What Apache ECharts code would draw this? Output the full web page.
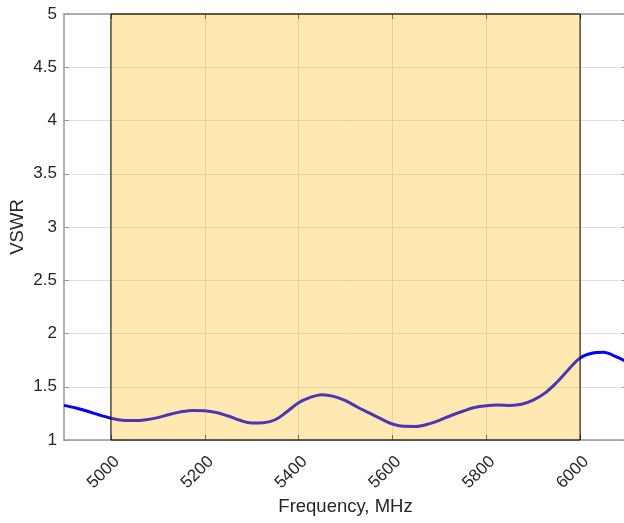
<!DOCTYPE html>
<html>
<head>
<meta charset="utf-8">
<script src="https://cdn.jsdelivr.net/npm/echarts@6/dist/echarts.min.js"></script>
<style>
html,body{margin:0;padding:0;background:#fff;}
#chart{width:624px;height:523px;}
</style>
</head>
<body>
<div id="chart"></div>
<script>
var freq = [4900,4925,4950,4975,5000,5025,5050,5075,5100,5125,5150,5175,5200,5225,5250,5275,5300,5325,5350,5375,5400,5425,5450,5475,5500,5525,5550,5575,5600,5625,5650,5675,5700,5725,5750,5775,5800,5825,5850,5875,5900,5925,5950,5975,6000,6025,6050,6075,6100];
var vswr = [1.325,1.30,1.27,1.235,1.205,1.185,1.182,1.19,1.21,1.24,1.265,1.278,1.275,1.258,1.225,1.185,1.16,1.162,1.19,1.265,1.35,1.40,1.425,1.41,1.37,1.31,1.255,1.20,1.15,1.128,1.127,1.148,1.185,1.23,1.27,1.305,1.322,1.328,1.325,1.335,1.375,1.44,1.54,1.66,1.77,1.815,1.825,1.785,1.735];
var xTicks = [5000,5200,5400,5600,5800,6000];
var bandRange = [5000, 6000];
var xRange = [4900, 6100];
var yRange = [1, 5];

var font = '"Liberation Sans", Arial, Helvetica, sans-serif';
var axisGray = '#999999';
var textCol = '#262626';

var chart = echarts.init(document.getElementById('chart'), null, {renderer:'canvas'});
var pts = freq.map(function(f,i){ return [f, vswr[i]]; });

chart.setOption({
  animation: false,
  backgroundColor: '#ffffff',
  grid: {left: 64, top: 14, bottom: 83, width: 563, containLabel: false, outerBoundsMode: 'none'},
  xAxis: [{
    type: 'value', min: xRange[0], max: xRange[1], position: 'bottom',
    name: 'Frequency, MHz', nameLocation: 'middle', nameGap: 57, nameMoveOverlap: false,
    nameTextStyle: {fontFamily: font, fontSize: 18.5, color: textCol},
    axisLine: {show: true, onZero: false, lineStyle: {color: axisGray, width: 1.5}},
    axisTick: {show: true, inside: true, length: 5, customValues: xTicks, lineStyle: {color: '#555', width: 1}},
    axisLabel: {customValues: xTicks, rotate: 45, margin: 13, verticalAlign: 'top', fontFamily: font, fontSize: 17, color: textCol,
      formatter: function(v){ return String(v); }},
    splitLine: {show: true, lineStyle: {color: '#dfdfdf', width: 1}}
  },{
    type: 'value', min: xRange[0], max: xRange[1], position: 'top',
    axisLine: {show: true, onZero: false, lineStyle: {color: axisGray, width: 1.5}},
    axisTick: {show: true, inside: true, length: 5, customValues: xTicks, lineStyle: {color: '#555', width: 1}},
    axisLabel: {show: false}, splitLine: {show: false}
  }],
  yAxis: [{
    type: 'value', min: yRange[0], max: yRange[1], interval: 0.5, position: 'left',
    name: 'VSWR', nameLocation: 'middle', nameGap: 37, nameMoveOverlap: false,
    nameTextStyle: {fontFamily: font, fontSize: 18.5, color: textCol},
    axisLine: {show: true, onZero: false, lineStyle: {color: axisGray, width: 1.5}},
    axisTick: {show: true, inside: true, length: 5, lineStyle: {color: axisGray, width: 1}},
    axisLabel: {margin: 7, fontFamily: font, fontSize: 17, color: textCol},
    splitLine: {show: true, lineStyle: {color: '#dfdfdf', width: 1}}
  },{
    type: 'value', min: yRange[0], max: yRange[1], interval: 0.5, position: 'right',
    axisLine: {show: true, onZero: false, lineStyle: {color: axisGray, width: 1.5}},
    axisTick: {show: true, inside: true, length: 5, lineStyle: {color: axisGray, width: 1}},
    axisLabel: {show: false}, splitLine: {show: false}
  }],
  series: [{
    type: 'line', data: pts, xAxisIndex: 0, yAxisIndex: 0, z: 2,
    symbol: 'none', smooth: 0.35,
    lineStyle: {color: '#0000ff', width: 3}
  },{
    type: 'line', data: [], xAxisIndex: 0, yAxisIndex: 0, z: 5, zlevel: 0,
    markArea: {
      silent: true, z: 10,
      itemStyle: {color: 'rgba(255,178,0,0.3)', borderColor: '#000000', borderWidth: 1},
      data: [[{xAxis: bandRange[0], yAxis: yRange[0]}, {xAxis: bandRange[1], yAxis: yRange[1]}]]
    }
  }]
});
</script>
</body>
</html>
